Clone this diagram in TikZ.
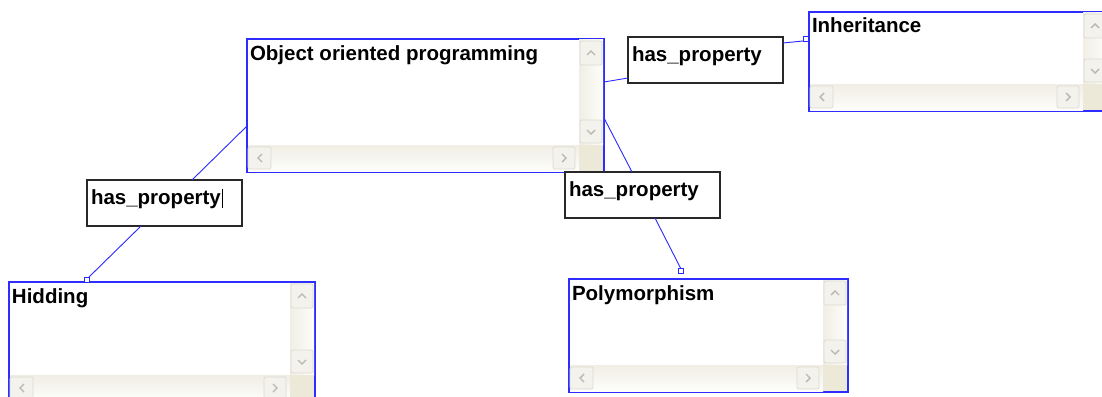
\documentclass[tikz,border=0pt]{standalone}
\usepackage{fontspec}
\setmainfont{Liberation Sans}
\usetikzlibrary{calc}

\definecolor{paneblue}{RGB}{45,45,255}
\definecolor{linkblue}{RGB}{40,40,255}
\definecolor{trackA}{RGB}{240,238,228}
\definecolor{trackB}{RGB}{253,253,251}
\definecolor{cornerbeige}{RGB}{236,233,216}
\definecolor{btnfill}{RGB}{243,242,236}
\definecolor{btnedge}{RGB}{222,220,210}
\definecolor{chevgray}{RGB}{185,183,175}
\definecolor{relframe}{RGB}{40,40,40}

\tikzset{
  pane/.style={draw=paneblue, line width=1.4pt, fill=white, anchor=north west,
               inner sep=0pt, outer sep=0pt},
  panetext/.style={anchor=base west, inner sep=0pt, outer sep=0pt,
                   font=\fontsize{20.5}{24}\selectfont\bfseries},
  relbox/.style={draw=relframe, line width=1.1pt, fill=white, anchor=north west,
                 inner sep=0pt, outer sep=0pt},
  vtrack/.style={left color=trackA, right color=trackB},
  htrack/.style={top color=trackA, bottom color=trackB},
  corner/.style={fill=cornerbeige},
  sbbtn/.style={fill=btnfill, draw=btnedge, line width=0.8pt, rounded corners=2pt},
  chev/.style={draw=chevgray, line width=1.4pt},
  link/.style={draw=linkblue, line width=0.9pt},
  endsq/.style={draw=linkblue, fill=white, line width=0.9pt, minimum size=5pt,
                inner sep=0pt, outer sep=0pt, rectangle},
}

% A text pane with its two scroll bars: name, left, top, width, height, text
\newcommand\textpane[6]{%
  \node[pane, minimum width=#4pt, minimum height=#5pt] (#1) at (#2,#3) {};
  % scroll tracks and the corner square
  \path[vtrack] ($(#1.north east)+(-25,1)$) rectangle ($(#1.south east)+(-1,-27)$);
  \path[htrack] ($(#1.south west)+(1,-27)$) rectangle ($(#1.south east)+(-25,-1)$);
  \path[corner] ($(#1.south east)+(-25,-27)$) rectangle ($(#1.south east)+(-1,-1)$);
  % button centres
  \coordinate (#1-up) at ($(#1.north east)+(-13,14)$);
  \coordinate (#1-dn) at ($(#1.south east)+(-13,-40)$);
  \coordinate (#1-lt) at ($(#1.south west)+(13,-14)$);
  \coordinate (#1-rt) at ($(#1.south east)+(-40,-14)$);
  % up
  \draw[sbbtn] ([shift={(-11,-12)}]#1-up) rectangle ([shift={(11,12)}]#1-up);
  \draw[chev] ([shift={(-4,2)}]#1-up) -- ([shift={(0,-2)}]#1-up) -- ([shift={(4,2)}]#1-up);
  % down
  \draw[sbbtn] ([shift={(-11,-12)}]#1-dn) rectangle ([shift={(11,11)}]#1-dn);
  \draw[chev] ([shift={(-4,-2)}]#1-dn) -- ([shift={(0,2)}]#1-dn) -- ([shift={(4,-2)}]#1-dn);
  % left
  \draw[sbbtn] ([shift={(-12,-11)}]#1-lt) rectangle ([shift={(11,11)}]#1-lt);
  \draw[chev] ([shift={(2,-4)}]#1-lt) -- ([shift={(-2,0)}]#1-lt) -- ([shift={(2,4)}]#1-lt);
  % right
  \draw[sbbtn] ([shift={(-11,-11)}]#1-rt) rectangle ([shift={(11,11)}]#1-rt);
  \draw[chev] ([shift={(-2,-4)}]#1-rt) -- ([shift={(2,0)}]#1-rt) -- ([shift={(-2,4)}]#1-rt);
  % caption
  \node[panetext] (#1-text) at ($(#1.north west)+(3,21)$) {#6};
}

% A relation label box: name, left, top, text
\newcommand\relation[4]{%
  \node[relbox, minimum width=155pt, minimum height=46pt] (#1) at (#2,#3) {};
  \node[panetext] (#1-text) at ($(#1.north west)+(4,24)$) {#4};
}

\begin{document}
\begin{tikzpicture}[x=1pt, y=-1pt]
\useasboundingbox (0,0) rectangle (1102,396);
\clip (0,0) rectangle (1102,396);
\fill[white] (0,0) rectangle (1102,396);

% concepts
\textpane{oop}{247}{39}{357}{133}{Object oriented programming}
\textpane{inh}{809}{12}{299}{99}{Inheritance}
\textpane{hid}{9}{282}{306}{120}{Hidding}
\textpane{poly}{569}{279}{279}{113}{Polymorphism}

% relation labels
\relation{reltop}{628}{37}{has\_property}
\relation{relleft}{87}{180}{has\_property}
\relation{relright}{565}{172}{has\_property}

% text cursor in the left label
\draw[black, line width=1pt] ($(relleft-text.base east)+(1.5,4)$) -- ++(0,-19);

% end markers
\node[endsq] (sqinh) at (805.5,38.5) {};
\node[endsq] (sqhid) at (86.5,279.5) {};
\node[endsq] (sqpoly) at (680.5,270.5) {};

% connectors
\draw[link] ($(oop.north east)+(0,43)$) -- ($(reltop.south west)+(0,-5)$);
\draw[link] ($(reltop.north east)+(0,6)$) -- (sqinh.south west);
\draw[link] ($(oop.north west)+(0,87)$) -- ($(relleft.north west)+(105,0)$);
\draw[link] ($(relleft.south west)+(54,0)$) -- (sqhid.north east);
\draw[link] ($(oop.north east)+(0,79)$) -- ($(relright.north west)+(67,0)$);
\draw[link] ($(relright.south west)+(90,0)$) -- (sqpoly.north);
\end{tikzpicture}
\end{document}
